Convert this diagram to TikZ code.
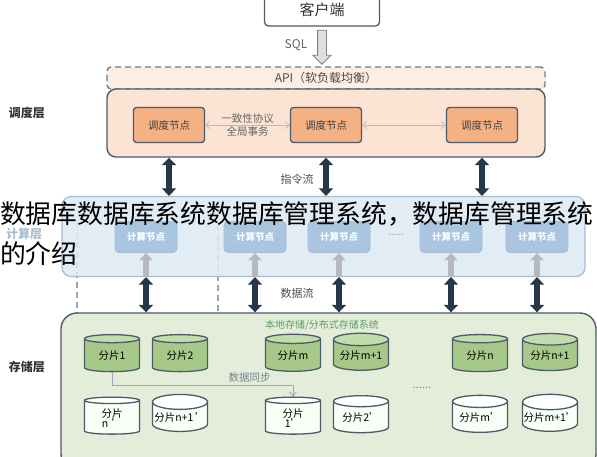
\documentclass[tikz,border=0pt]{standalone}
\usepackage{fontspec}
\setmainfont{Noto Sans CJK SC}
\usetikzlibrary{calc,positioning,arrows.meta,shapes.geometric,shapes.arrows}

\definecolor{edgeslate}{HTML}{4D5A68}
\definecolor{peachbg}{HTML}{FBE4D4}
\definecolor{peachapi}{HTML}{FDEDE3}
\definecolor{schedfill}{HTML}{F4B183}
\definecolor{compbg}{HTML}{DDE9F4}
\definecolor{compedge}{HTML}{A9BDD0}
\definecolor{compfill}{HTML}{A9C5E0}
\definecolor{storebg}{HTML}{E4EDDA}
\definecolor{shardgreen}{HTML}{A6C98A}
\definecolor{shardtop}{HTML}{C3DCAB}
\definecolor{navyarrow}{HTML}{263747}
\definecolor{flowgray}{HTML}{B6BABF}

\begin{document}
\begin{tikzpicture}[x=1pt,y=-1pt,
  layerbox/.style={draw=edgeslate,line width=1.4pt,rounded corners=9pt},
  schednode/.style={draw=edgeslate,line width=1.3pt,rounded corners=3pt,fill=schedfill,
    minimum width=71pt,minimum height=35pt,font=\fontsize{10.5}{12}\selectfont,text=black!75},
  compnode/.style={draw=compedge,line width=.8pt,rounded corners=4pt,fill=compfill,
    minimum width=62pt,minimum height=31pt,font=\bfseries\fontsize{9.5}{11}\selectfont,text=white},
  shard/.style={cylinder,shape border rotate=90,aspect=.28,draw=edgeslate,line width=1.3pt,
    minimum width=55pt,minimum height=37pt,cylinder uses custom fill,
    font=\fontsize{10.5}{10.5}\selectfont,align=center,inner sep=1pt},
  mainshard/.style={shard,cylinder body fill=shardgreen,cylinder end fill=shardtop},
  copyshard/.style={shard,cylinder body fill=white!97!green,cylinder end fill=white},
  bigflow/.style={line width=5.5pt,draw=navyarrow,
    {Triangle[width=14pt,length=7.5pt]}-{Triangle[width=14pt,length=7.5pt]}},
  upflow/.style={line width=5.5pt,draw=flowgray,-{Triangle[width=13pt,length=7.5pt]}},
  syncline/.style={draw=compedge!90!black,line width=.8pt,-{Straight Barb[length=4pt,width=7pt]}},
  layerlabel/.style={font=\bfseries\fontsize{12}{14}\selectfont},
  ]
  \useasboundingbox (0,0) rectangle (597,456);

  % client and SQL
  \node[draw=edgeslate,line width=1.3pt,rounded corners=4pt,minimum width=115pt,
    minimum height=38pt,font=\fontsize{15}{16}\selectfont,text=black!80,text depth=0pt]
    (client) at (322,7) {\raisebox{-5pt}{客户端}};
  \node[single arrow,shape border rotate=270,draw=gray,fill=gray!25,inner sep=4pt,
    single arrow head extend=4.5pt,minimum height=34pt,line width=.8pt]
    (sqlarrow) at (322,45) {};
  \node[text=black!60,font=\fontsize{12}{14}\selectfont] (sqllbl) at (296,45) {SQL};

  % scheduling layer
  \node[draw=edgeslate!80,dashed,dash pattern=on 6pt off 4pt,line width=1.4pt,
    rounded corners=4pt,fill=peachapi,minimum width=438pt,minimum height=22pt,
    font=\fontsize{12}{14}\selectfont,text=black!70] (api) at (326,78) {API（软负载均衡）};
  \node[layerbox,fill=peachbg,minimum width=438pt,minimum height=68pt] (sched) at (326,123) {};
  \node[layerlabel,text=black!80] (schedlbl) at (27,113) {调度层};
  \node[schednode] (s1) at (169,125) {调度节点};
  \node[schednode] (s2) at (326,125) {调度节点};
  \node[schednode] (s3) at (482,125) {调度节点};
  \draw[draw=compedge,line width=.8pt,{Straight Barb[length=4pt,width=7pt]}-{Straight Barb[length=4pt,width=7pt]}]
    (s1) -- node[above=-2pt,font=\fontsize{10.5}{12}\selectfont,text=black!60]{一致性协议}
    node[below=-2pt,font=\fontsize{10.5}{12}\selectfont,text=black!60]{全局事务} (s2);
  \draw[draw=compedge,line width=.8pt,{Straight Barb[length=4pt,width=7pt]}-{Straight Barb[length=4pt,width=7pt]}]
    (s2) -- (s3);

  % shard group outline
  \draw[draw=edgeslate!85,line width=1.4pt,dash pattern=on 6pt off 4pt,rounded corners=14pt]
    (77,222) -- (77,447) -- (218,447) -- (218,222);

  % compute layer
  \node[draw=compedge,line width=1.2pt,rounded corners=9pt,fill=compbg,fill opacity=.88,
    minimum width=523pt,minimum height=80pt] (comp) at (323.5,236.5) {};
  \node[layerlabel,text=compedge] (complbl) at (24,234) {计算层};
  \node[compnode] (c1) at (146,237) {计算节点};
  \node[compnode] (c2) at (255,237) {计算节点};
  \node[compnode] (c3) at (339,237) {计算节点};
  \node[compnode] (c4) at (451,237) {计算节点};
  \node[compnode] (c5) at (537,237) {计算节点};
  \node[text=compedge!80!black,font=\fontsize{9}{10}\selectfont] (cdots) at (396,235) {......};

  \foreach \x in {s1,s2,s3}
    \draw[bigflow] (\x |- sched.south) -- (\x |- comp.north);
  \node[font=\fontsize{11}{13}\selectfont,text=black!70] (cmdlbl) at (297,179) {指令流};

  % storage layer
  \node[layerbox,rounded corners=16pt,fill=storebg,minimum width=535pt,minimum height=157pt]
    (store) at (328.5,391.5) {};
  \node[layerlabel,text=black!80] (storelbl) at (27,367) {存储层};
  \node[text=green!25!gray,font=\fontsize{10}{12}\selectfont] (storetitle) at (322,325)
    {本地存储/分布式存储系统};

  \foreach \x in {c1,c2,c3,c4,c5}{
    \draw[upflow] (\x |- comp.south) -- (\x.south);
    \draw[bigflow] (\x |- comp.south) -- (\x |- store.north);
  }
  \node[font=\fontsize{11}{13}\selectfont,text=black!70] (datalbl) at (297,293) {数据流};

  \node[mainshard] (d1) at (112,356) {分片1};
  \node[mainshard] (d2) at (180,356) {分片2};
  \node[mainshard] (d3) at (293,356) {分片m};
  \node[mainshard] (d4) at (361,356) {分片m+1};
  \node[mainshard] (d5) at (480,356) {分片n};
  \node[mainshard] (d6) at (550,356) {分片n+1};
  \node[copyshard] (b1) at (112,418) {分片\\n\,\,'};
  \node[copyshard] (b2) at (180,418) {分片n+1\,'};
  \node[copyshard] (b3) at (293,418) {分片\\1'};
  \node[copyshard] (b4) at (361,418) {分片2'};
  \node[copyshard] (b5) at (480,418) {分片m'};
  \node[copyshard] (b6) at (550,418) {分片m+1'};
  \node[text=edgeslate!70,font=\fontsize{11}{12}\selectfont] (sdots) at (422,388) {......};

  \coordinate (syncturn) at ($(d1.south)+(0,13)$);
  \draw[syncline] (d1.south) -- (syncturn) -|
    node[pos=.38,above=-1pt,text=compedge!70!black,font=\fontsize{10.5}{12}\selectfont]{数据同步}
    (b3.north);

  % overlay caption
  \node[anchor=north west,inner sep=0pt,align=left,font=\fontsize{25.8}{40}\selectfont]
    (caption) at (0,202) {数据库数据库系统数据库管理系统，数据库管理系统\\的介绍};
\end{tikzpicture}
\end{document}
